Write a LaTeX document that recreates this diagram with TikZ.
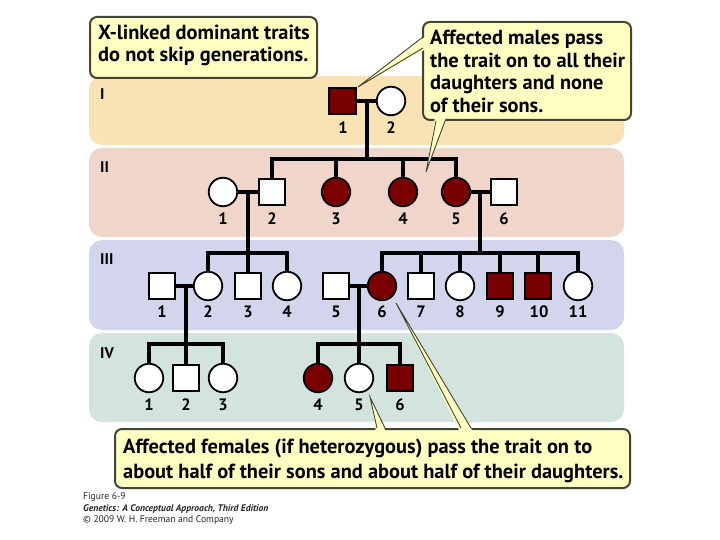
\documentclass[tikz,border=0pt]{standalone}
\usepackage{fontspec}
\setmainfont{PT Sans}
\definecolor{bandA}{RGB}{249,227,180}
\definecolor{bandB}{RGB}{240,213,203}
\definecolor{bandC}{RGB}{211,213,236}
\definecolor{bandD}{RGB}{211,227,221}
\definecolor{affected}{RGB}{122,0,0}
\definecolor{callfill}{RGB}{255,255,194}
\definecolor{callline}{RGB}{68,68,52}
\pgfdeclarelayer{bands}
\pgfdeclarelayer{lines}
\pgfsetlayers{bands,lines,main}
\tikzset{
  male/.style={rectangle, draw=black, line width=1.8pt, minimum size=26.5pt, inner sep=0pt, fill=white},
  female/.style={circle, draw=black, line width=1.8pt, minimum size=28.5pt, inner sep=0pt, fill=white},
  aff/.style={fill=affected},
  num/.style={font=\fontsize{16.5}{18}\selectfont\bfseries, anchor=base, inner sep=0pt},
  gennum/.style={font=\fontsize{15.5}{18}\selectfont\bfseries, anchor=base west, inner sep=0pt},
  kin/.style={line width=3.1pt, line cap=rect},
  band/.style={rounded corners=13pt},
  callbox/.style={draw=callline, fill=callfill, line width=2pt, rounded corners=7pt},
  calltext/.style={font=\fontsize{20.4}{22}\selectfont\bfseries, anchor=base west, inner sep=0pt},
  tailfill/.style={fill=callfill},
  tailline/.style={draw=callline, line width=0.9pt},
  captext/.style={font=\fontsize{9.6}{11}\selectfont, anchor=base west, inner sep=0pt, text=black!85}
}
\begin{document}
\begin{tikzpicture}[x=1pt,y=-1pt]
\useasboundingbox (0,0) rectangle (720,540);

% background and bands
\begin{pgfonlayer}{bands}
\fill[white] (0,0) rectangle (720,540);
\fill[band, bandA] (89,76) rectangle (624,145);
\fill[band, bandB] (89,148) rectangle (624,237);
\fill[band, bandC] (89,240) rectangle (624,330);
\fill[band, bandD] (89,333) rectangle (624,422);
\end{pgfonlayer}

% generation numerals
\node[gennum] (gI) at (100,100) {I};
\node[gennum] (gII) at (100,173) {II};
\node[gennum] (gIII) at (100,264) {III};
\node[gennum] (gIV) at (100,358) {IV};

% generation I
\node[male, aff] (I1) at (342.5,101) {};
\node[female] (I2) at (391,101) {};
% generation II
\node[female] (II1) at (223,192) {};
\node[male] (II2) at (272,192) {};
\node[female, aff] (II3) at (336,192) {};
\node[female, aff] (II4) at (403,192) {};
\node[female, aff] (II5) at (456,192) {};
\node[male] (II6) at (504,192) {};
% generation III
\node[male] (III1) at (162,286) {};
\node[female] (III2) at (208,286) {};
\node[male] (III3) at (248,286) {};
\node[female] (III4) at (287,286) {};
\node[male] (III5) at (336,286) {};
\node[female, aff] (III6) at (382,286) {};
\node[male] (III7) at (421,286) {};
\node[female] (III8) at (460,286) {};
\node[male, aff] (III9) at (500,286) {};
\node[male, aff] (III10) at (538,286) {};
\node[female] (III11) at (578,286) {};
% generation IV
\node[female] (IV1) at (149,378) {};
\node[male] (IV2) at (186,378) {};
\node[female] (IV3) at (223,378) {};
\node[female, aff] (IV4) at (318,378) {};
\node[female] (IV5) at (359,378) {};
\node[male, aff] (IV6) at (400,378) {};

% number labels
\node[num] (nI1) at (343,134) {1};
\node[num] (nI2) at (391,134) {2};
\foreach \n/\x in {1/223,2/272,3/336,4/403,5/456,6/504}
  \node[num] (nII\n) at (\x,225) {\n};
\foreach \n/\x in {1/162,2/208,3/248,4/287,5/336,6/382,7/421,8/460,9/500,10/539,11/578}
  \node[num] (nIII\n) at (\x,317) {\n};
\foreach \n/\x in {1/149,2/186,3/223,4/318,5/359,6/400}
  \node[num] (nIV\n) at (\x,410) {\n};

% junction coordinates
\coordinate (d1) at (367,101);
\coordinate (s2) at (367,159);
\coordinate (d2a) at (248,192);
\coordinate (s3a) at (248,253);
\coordinate (d2b) at (480,192);
\coordinate (s3b) at (480,253);
\coordinate (d3a) at (186,286);
\coordinate (s4a) at (186,344);
\coordinate (d3b) at (359,286);
\coordinate (s4b) at (359,344);

\begin{pgfonlayer}{lines}
% marriages
\draw[kin] (I1.center) -- (I2.center);
\draw[kin] (II1.center) -- (II2.center);
\draw[kin] (II5.center) -- (II6.center);
\draw[kin] (III1.center) -- (III2.center);
\draw[kin] (III5.center) -- (III6.center);
% descent lines
\draw[kin] (d1) -- (s2);
\draw[kin] (d2a) -- (s3a);
\draw[kin] (d2b) -- (s3b);
\draw[kin] (d3a) -- (s4a);
\draw[kin] (d3b) -- (s4b);
% sibships
\draw[kin] (II2 |- s2) -- (II5 |- s2);
\foreach \c in {II2,II3,II4,II5} \draw[kin] (\c |- s2) -- (\c.center);
\draw[kin] (III2 |- s3a) -- (III4 |- s3a);
\foreach \c in {III2,III3,III4} \draw[kin] (\c |- s3a) -- (\c.center);
\draw[kin] (III6 |- s3b) -- (III11 |- s3b);
\foreach \c in {III6,III7,III8,III9,III10,III11} \draw[kin] (\c |- s3b) -- (\c.center);
\draw[kin] (IV1 |- s4a) -- (IV3 |- s4a);
\foreach \c in {IV1,IV2,IV3} \draw[kin] (\c |- s4a) -- (\c.center);
\draw[kin] (IV4 |- s4b) -- (IV6 |- s4b);
\foreach \c in {IV4,IV5,IV6} \draw[kin] (\c |- s4b) -- (\c.center);
\end{pgfonlayer}

% callout: top left
\draw[callbox] (90,17) rectangle (317,78);
\node[calltext] (cA1) at (98,40) {X-linked dominant traits};
\node[calltext] (cA2) at (98,62) {do not skip generations.};

% callout: top right
\draw[callbox] (423,22) rectangle (631,120);
\coordinate (tA) at (358,87);
\coordinate (tB) at (426,172);
\fill[tailfill] (426,36) -- (tA) -- (426,49) -- cycle;
\draw[tailline] (423,37) -- (tA) -- (423,48);
\fill[tailfill] (435,117) -- (tB) -- (446,117) -- cycle;
\draw[tailline] (436,121) -- (tB) -- (445,121);
\node[calltext] (cB1) at (430,45) {Affected males pass};
\node[calltext] (cB2) at (430,67.5) {the trait on to all their};
\node[calltext] (cB3) at (430,90) {daughters and none};
\node[calltext] (cB4) at (430,112.5) {of their sons.};

% callout: bottom
\draw[callbox] (115,429) rectangle (630,488);
\coordinate (tC) at (370,397);
\coordinate (tD) at (396,303);
\fill[tailfill] (376,432) -- (tC) -- (386,432) -- cycle;
\draw[tailline] (377,428) -- (tC) -- (385,428);
\fill[tailfill] (460,432) -- (tD) -- (473,432) -- cycle;
\draw[tailline] (461,428) -- (tD) -- (471,428);
\node[calltext] (cC1) at (123,453) {Affected females (if heterozygous) pass the trait on to};
\node[calltext] (cC2) at (123,478) {about half of their sons and about half of their daughters.};

% caption
\node[captext] (cap1) at (83,499) {Figure 6-9};
\node[captext, font=\fontsize{9.6}{11}\selectfont\bfseries\itshape] (cap2) at (83,511) {Genetics: A Conceptual Approach, Third Edition};
\node[captext] (cap3) at (83,522) {\textcopyright\ 2009 W. H. Freeman and Company};
\end{tikzpicture}
\end{document}
